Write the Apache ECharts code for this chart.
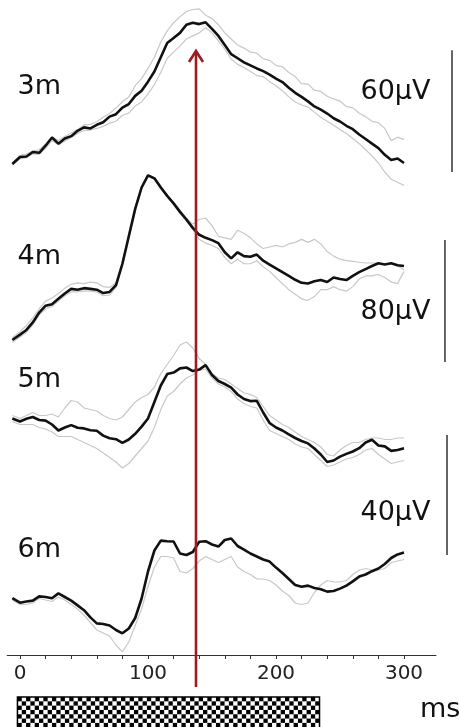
<!DOCTYPE html>
<html>
<head>
<meta charset="utf-8">
<script src="https://cdn.jsdelivr.net/npm/echarts@6/dist/echarts.min.js"></script>
<style>
  html, body { margin: 0; padding: 0; background: #fff; }
  #chart { width: 459px; height: 727px; }
</style>
</head>
<body>
<div id="chart"></div>
<script>
// sample times (ms), one every 5 ms
var times = [-6, 0, 5, 10, 15, 20, 25, 30, 35, 40, 45, 50, 55, 60, 65, 70, 75, 80, 85, 90,
  95, 100, 105, 110, 115, 120, 125, 130, 135, 140, 145, 150, 155, 160, 165, 170, 175, 180,
  185, 190, 195, 200, 205, 210, 215, 220, 225, 230, 235, 240, 245, 250, 255, 260, 265, 270,
  275, 280, 285, 290, 295, 300];

// 3 m (µV)
var black3m = [1.5, 4.9, 5.2, 7.4, 7.0, 10.5, 14.5, 11.5, 14.0, 15.2, 17.8, 19.5, 19.0, 20.8, 22.0,
  24.8, 26.0, 29.2, 31.0, 35.0, 37.5, 42.0, 47.0, 54.0, 61.0, 63.5, 66.0, 70.0, 71.0, 70.3, 71.2,
  68.0, 64.5, 60.0, 55.5, 53.5, 51.5, 50.0, 48.5, 47.2, 45.5, 43.5, 41.8, 39.0, 36.5, 34.5, 32.3,
  29.8, 28.2, 26.3, 24.0, 22.4, 20.3, 18.6, 16.0, 13.8, 11.5, 9.3, 6.0, 3.5, 4.2, 2.0];
var greyHi3m = [2.0, 5.7, 6.4, 7.9, 8.5, 11.3, 14.8, 13.0, 15.0, 16.7, 18.4, 20.7, 21.0, 22.3, 24.5,
  26.3, 29.0, 32.2, 34.5, 40.0, 43.5, 48.5, 54.0, 61.5, 67.0, 71.0, 74.0, 76.5, 77.5, 77.8, 74.7,
  73.0, 70.0, 66.0, 63.0, 60.0, 58.5, 56.5, 56.0, 53.2, 52.5, 50.0, 49.3, 46.5, 44.5, 41.0, 40.8,
  37.8, 37.2, 34.8, 33.5, 32.4, 29.8, 29.1, 26.5, 24.8, 22.5, 21.8, 19.0, 13.0, 14.7, 13.5];
var greyLo3m = [1.0, 4.0, 4.6, 6.5, 6.2, 9.3, 13.0, 11.0, 12.8, 14.5, 16.5, 18.0, 18.2, 19.0, 20.0,
  21.5, 22.5, 25.5, 26.5, 30.0, 32.0, 36.0, 40.5, 46.5, 53.5, 56.5, 59.5, 63.0, 64.5, 66.0, 68.5,
  66.0, 62.0, 58.0, 53.0, 50.5, 49.0, 47.0, 45.0, 44.5, 42.0, 40.0, 37.5, 34.5, 32.0, 30.5, 29.5,
  27.0, 24.5, 22.5, 20.5, 18.5, 16.5, 14.0, 11.5, 8.5, 5.5, 2.0, -2.5, -6.0, -7.5, -9.0];

// 4 m (µV)
var black4m = [0, 3.5, 6.6, 11.5, 18.0, 22.5, 23.5, 27.0, 30.5, 33.5, 33.0, 34.0, 33.5, 33.0, 30.8,
  31.5, 36.0, 50.0, 68.0, 86.0, 100.0, 108.0, 106.0, 100.0, 94.5, 89.6, 84.0, 79.0, 73.5, 69.0,
  67.0, 65.5, 63.5, 57.5, 53.5, 57.5, 55.0, 54.6, 56.0, 52.0, 49.5, 47.0, 44.5, 42.0, 39.5, 37.5,
  37.0, 38.5, 39.3, 38.0, 41.0, 40.0, 39.3, 42.0, 44.5, 46.5, 48.5, 50.3, 49.5, 50.3, 49.0, 48.5];
var greyHi4m = [1.5, 5.5, 9.5, 14.5, 20.5, 25.5, 27.5, 30.5, 34.0, 36.5, 37.5, 37.0, 38.0, 37.5, 35.0,
  34.5, 37.5, 51, 69, 87, 101, 108.5, 106.5, 101, 95, 90, 85, 80, 76, 79, 80, 75, 68, 67, 66, 72,
  70, 67, 63, 60, 61, 62, 61, 63, 64, 66, 64, 66, 63, 58, 55, 53, 52, 51.5, 51, 50.5, 50.5, 50.5,
  50, 50, 48.5, 46];
var greyLo4m = [-1.5, 2.0, 5.0, 10.0, 16.5, 20.5, 22.0, 25.5, 29.0, 31.5, 31.5, 32.0, 32.0, 31.5, 29.0,
  29.5, 34.5, 49, 67, 85, 99, 107.5, 105.5, 99.5, 94, 89, 83, 78, 72.5, 66, 63.5, 62, 60, 54, 50,
  53, 50, 50, 52, 48, 45, 41, 37, 33, 30, 27, 26, 28.5, 33, 33, 35, 33, 32, 35, 40, 42, 42, 43,
  41, 38, 37, 45];

// 5 m (µV)
var black5m = [-0.5, -1.5, -0.6, 0.0, -1.0, -1.2, -2.5, -4.5, -3.5, -2.7, -3.6, -3.8, -4.4, -4.6, -6.2,
  -7.1, -7.4, -8.6, -7.5, -5.6, -3.2, -0.5, 5.0, 10.5, 14.3, 14.8, 16.2, 16.5, 15.3, 15.8, 17.3,
  14.0, 12.0, 11.0, 9.8, 7.5, 6.0, 5.3, 5.4, 1.5, -2.0, -3.5, -4.5, -5.8, -7.0, -8.0, -8.8, -10.5,
  -12.5, -15.0, -14.5, -13.2, -12.3, -11.5, -10.4, -8.5, -7.6, -9.5, -9.8, -11.3, -11.0, -10.4];
var greyHi5m = [0.5, -0.5, 0.5, 1.5, 0.5, 0.5, 1.0, 0.0, 3.0, 5.5, 5.0, 3.0, 2.5, 2.0, 0.5, -0.5, -1.0,
  0.0, 2.5, 5.0, 6.5, 7.5, 10.0, 14.5, 17.5, 20.5, 24.0, 25.0, 23.0, 19.5, 17.5, 14.5, 13.0, 12.5,
  11.0, 9.5, 8.0, 7.5, 6.5, 3.5, 0.5, -1.0, -2.5, -3.5, -5.0, -6.5, -7.5, -8.5, -10.0, -12.5, -13.0,
  -11.0, -9.5, -8.5, -8.5, -7.5, -7.0, -7.0, -7.5, -7.5, -7.0, -7.0];
var greyLo5m = [-1.5, -2.5, -2.5, -2.5, -3.5, -4.0, -5.0, -6.5, -6.5, -6.5, -7.5, -8.5, -9.5, -10.5,
  -12.0, -13.5, -15.0, -17.0, -15.5, -13.0, -10.5, -8.0, -3.5, 2.5, 7.0, 8.5, 11.0, 13.0, 14.0, 15.5,
  16.0, 13.0, 11.0, 10.0, 8.5, 6.0, 4.5, 3.5, 3.0, -1.0, -4.5, -5.5, -6.5, -7.5, -9.0, -10.0, -10.5,
  -12.5, -14.5, -16.5, -16.0, -15.0, -14.0, -13.5, -12.5, -11.0, -10.5, -12.5, -14.0, -15.5, -15.0, -14.5];

// 6 m (µV)
var black6m = [0.6, -0.9, -0.5, -0.2, 1.2, 1.0, 0.6, 2.2, 1.0, -0.2, -1.8, -3.4, -5.8, -7.8, -8.0, -8.5,
  -10.0, -11.1, -9.5, -6.0, 0.5, 9.5, 16.5, 19.8, 19.6, 19.5, 15.5, 15.0, 16.0, 19.4, 19.6, 18.5,
  17.8, 20.0, 20.5, 18.0, 16.8, 15.5, 14.5, 13.5, 12.8, 10.8, 9.0, 7.0, 5.0, 4.4, 4.8, 4.0, 3.6,
  2.8, 3.0, 3.8, 4.8, 6.2, 7.8, 8.5, 9.6, 10.5, 12.0, 14.0, 15.2, 15.8];
var grey6m = [0.0, -1.5, -1.5, -1.0, 0.5, 0.0, -0.5, 1.0, 0.0, -1.5, -3.0, -5.0, -7.5, -10.0, -11.0,
  -12.0, -15.0, -17.3, -14.0, -8.5, -3.0, 4.5, 11.0, 14.5, 14.5, 14.0, 9.5, 9.0, 10.5, 13.0, 14.5,
  13.5, 12.5, 13.5, 14.5, 11.0, 9.5, 8.5, 7.0, 7.0, 6.5, 5.0, 3.0, 1.5, -1.0, -1.5, -1.0, 2.5, 5.0,
  6.5, 6.0, 6.0, 6.5, 8.5, 10.0, 10.5, 10.0, 10.0, 10.5, 12.5, 13.0, 13.5];

var traceNames = ['3m', '4m', '5m', '6m'];
var scaleBarsUv = [60, 80, 40];
var tickValues = [0, 20, 40, 60, 80, 100, 120, 140, 160, 180, 200, 220, 240, 260, 280, 300];
var tickLabels = [0, 100, 200, 300];
var stimulusMs = [-2, 234];
var arrowMs = 137.5;

var FONT = '"DejaVu Sans", sans-serif';
var X_MIN = -10, X_MAX = 325;
var LEFT = 7.2, WIDTH = 428.8;

// one panel per distance; px per µV differs (see scale bars)
var panels = [
  { top: 4.4, height: 203.3, min: -20, max: 80, black: black3m, greys: [greyHi3m, greyLo3m] },
  { top: 157, height: 213.5, min: -20, max: 120, black: black4m, greys: [greyHi4m, greyLo4m] },
  { top: 327, height: 150, min: -20, max: 30, black: black5m, greys: [greyHi5m, greyLo5m] },
  { top: 525, height: 135, min: -20, max: 25, black: black6m, greys: [grey6m] }
];

function pairs(vals) {
  return times.map(function (t, i) { return [t, vals[i]]; });
}

var grid = [], xAxis = [], yAxis = [], series = [];
panels.forEach(function (p, i) {
  grid.push({ left: LEFT, width: WIDTH, top: p.top, height: p.height });
  xAxis.push({ gridIndex: i, type: 'value', min: X_MIN, max: X_MAX, show: false });
  yAxis.push({ gridIndex: i, type: 'value', min: p.min, max: p.max, show: false });
  p.greys.forEach(function (g) {
    series.push({
      type: 'line', xAxisIndex: i, yAxisIndex: i, data: pairs(g),
      showSymbol: false, silent: true,
      lineStyle: { color: '#c8c8c8', width: 1.2 }
    });
  });
  series.push({
    type: 'line', xAxisIndex: i, yAxisIndex: i, data: pairs(p.black),
    showSymbol: false, silent: true,
    lineStyle: { color: '#111', width: 2.6 }
  });
});

// axis panel (full height, axis line at the bottom)
grid.push({ left: LEFT, width: WIDTH, top: 0, height: 655 });
xAxis.push({
  gridIndex: 4, type: 'value', min: X_MIN, max: X_MAX,
  axisLine: { show: true, lineStyle: { color: '#333', width: 1 } },
  axisTick: { show: true, length: 4, customValues: tickValues, lineStyle: { color: '#333' } },
  axisLabel: { customValues: tickLabels, fontSize: 20, fontFamily: FONT, color: '#222', margin: 9 },
  splitLine: { show: false }
});
yAxis.push({ gridIndex: 4, type: 'value', min: 0, max: 1, show: false });

// scale bars: [ms, base µV, base + amplitude]
var barSpots = [
  { panel: 0, x: 337.5, base: -2.5 },
  { panel: 1, x: 332, base: -14.4 },
  { panel: 3, x: 333.6, base: 15 }
];
barSpots.forEach(function (b, k) {
  series.push({
    type: 'custom', xAxisIndex: b.panel, yAxisIndex: b.panel, silent: true,
    data: [[b.x, b.base, b.base + scaleBarsUv[k]]],
    renderItem: function (params, api) {
      var p0 = api.coord([api.value(0), api.value(1)]);
      var p1 = api.coord([api.value(0), api.value(2)]);
      return { type: 'line', shape: { x1: p0[0], y1: p0[1], x2: p1[0], y2: p1[1] },
        style: { stroke: '#333', lineWidth: 1.5 } };
    }
  });
});

// checkerboard stimulus bar
series.push({
  type: 'custom', xAxisIndex: 4, yAxisIndex: 4, silent: true,
  data: [[stimulusMs[0], stimulusMs[1]]],
  renderItem: function (params, api) {
    var cs = params.coordSys;
    var x0 = api.coord([api.value(0), 0])[0];
    var x1 = api.coord([api.value(1), 0])[0];
    var y0 = cs.y + cs.height + 42;
    var cols = 70, s = (x1 - x0) / cols, rows = 8;
    var kids = [];
    for (var r = 0; r < rows; r++) {
      for (var c = 0; c < cols; c++) {
        if ((r + c) % 2 === 0) {
          kids.push({ type: 'rect', shape: { x: x0 + c * s, y: y0 + r * s, width: s, height: s },
            style: { fill: '#000' } });
        }
      }
    }
    kids.push({ type: 'rect', shape: { x: x0, y: y0, width: x1 - x0, height: 40 },
      style: { fill: 'none', stroke: '#000', lineWidth: 1.5 } });
    return { type: 'group', children: kids };
  }
});

// red arrow at the marked latency
series.push({
  type: 'custom', xAxisIndex: 4, yAxisIndex: 4, silent: true, z: 10,
  data: [[arrowMs, 0]],
  renderItem: function (params, api) {
    var cs = params.coordSys;
    var x = api.coord([api.value(0), 0])[0];
    var top = 51, bottom = cs.y + cs.height + 32;
    var st = { stroke: '#9e1b20', lineWidth: 2.6, fill: 'none' };
    return { type: 'group', children: [
      { type: 'line', shape: { x1: x, y1: bottom, x2: x, y2: top + 2 }, style: st },
      { type: 'polyline', shape: { points: [[x - 7, top + 11], [x, top], [x + 7, top + 11]] }, style: st }
    ] };
  }
});

var txt = function (text, x, y) {
  return { type: 'text', x: x, y: y, silent: true,
    style: { text: text, font: '27px ' + FONT, fill: '#111', verticalAlign: 'middle' } };
};

var chart = echarts.init(document.getElementById('chart'));
chart.setOption({
  animation: false,
  backgroundColor: '#fff',
  grid: grid,
  xAxis: xAxis,
  yAxis: yAxis,
  series: series,
  graphic: [
    txt(traceNames[0], 17.5, 87),
    txt(traceNames[1], 17.5, 257),
    txt(traceNames[2], 17.5, 380),
    txt(traceNames[3], 17.5, 550),
    txt(scaleBarsUv[0] + 'μV', 360.5, 92),
    txt(scaleBarsUv[1] + 'μV', 360.5, 312),
    txt(scaleBarsUv[2] + 'μV', 360.5, 513),
    txt('ms', 420, 710)
  ]
});
</script>
</body>
</html>
